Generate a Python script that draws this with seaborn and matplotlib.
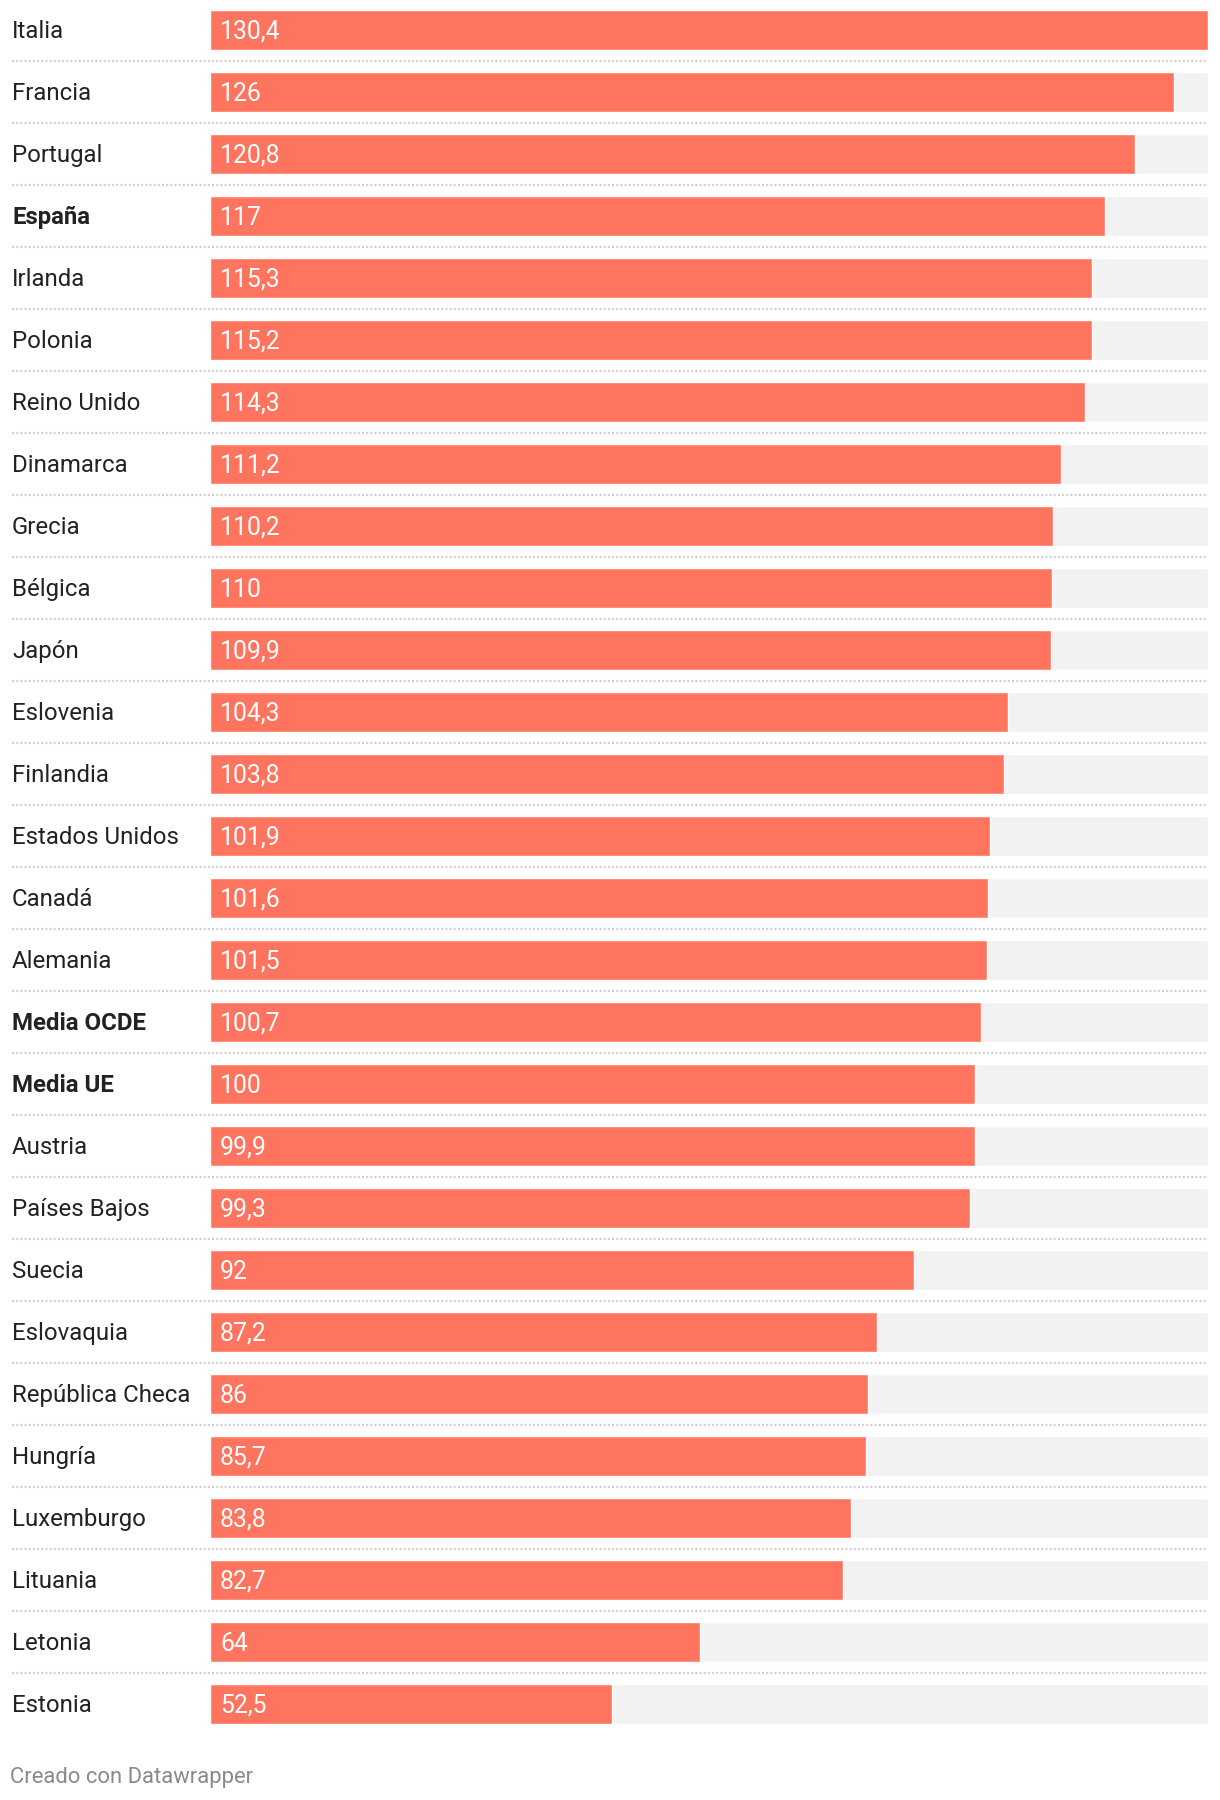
import matplotlib
matplotlib.use("Agg")
import matplotlib.pyplot as plt
import seaborn as sns
import pandas as pd

# datos
paises = ['Italia', 'Francia', 'Portugal', 'España', 'Irlanda', 'Polonia', 'Reino Unido',
          'Dinamarca', 'Grecia', 'Bélgica', 'Japón', 'Eslovenia', 'Finlandia',
          'Estados Unidos', 'Canadá', 'Alemania', 'Media OCDE', 'Media UE', 'Austria',
          'Países Bajos', 'Suecia', 'Eslovaquia', 'República Checa', 'Hungría',
          'Luxemburgo', 'Lituania', 'Letonia', 'Estonia']
valores = [130.4, 126, 120.8, 117, 115.3, 115.2, 114.3, 111.2, 110.2, 110, 109.9, 104.3,
           103.8, 101.9, 101.6, 101.5, 100.7, 100, 99.9, 99.3, 92, 87.2, 86, 85.7, 83.8,
           82.7, 64, 52.5]
destacados = ['España', 'Media OCDE', 'Media UE']

df = pd.DataFrame({'pais': paises, 'valor': valores})
df['fondo'] = max(valores)

sns.set_style('white')
plt.rcParams['font.family'] = ['Roboto', 'DejaVu Sans']

W, H = 1220, 1800
fig = plt.figure(figsize=(W / 100, H / 100), dpi=100)
ax = fig.add_axes([210 / W, (H - 1735) / H, 998 / W, 1736 / H])

ancho = 40 / 62
sns.barplot(data=df, x='fondo', y='pais', orient='h', color='#f2f2f2',
            saturation=1, width=ancho, ax=ax)
sns.barplot(data=df, x='valor', y='pais', orient='h', color='#ff745f',
            saturation=1, width=ancho, ax=ax)

ax.set_xlim(0, max(valores))
ax.set_ylim(len(paises) - 0.5, -0.5)
ax.axis('off')

# separadores punteados
for i in range(len(paises) - 1):
    ax.axhline(i + 0.5, xmin=(12 - 210) / 998, xmax=1, color='#d0d0d0',
               linestyle=(0, (1, 1)), linewidth=1.5, clip_on=False)

trans = ax.get_yaxis_transform()
for i, (p, v) in enumerate(zip(paises, valores)):
    ax.text((12 - 210) / 998, i + 0.03, p, transform=trans, ha='left', va='center',
            fontsize=17.3, color='#222222',
            fontweight='bold' if p in destacados else 'normal')
    txt = f'{v:g}'.replace('.', ',')
    ax.text(10 / 998, i + 0.03, txt, transform=trans, ha='left', va='center',
            fontsize=17.8, color='white')

fig.text(10 / W, 1 - 1778 / H, 'Creado con Datawrapper', ha='left', va='center',
         fontsize=15.8, color='#8a8a8a')

fig.savefig('out.png', dpi=100)
